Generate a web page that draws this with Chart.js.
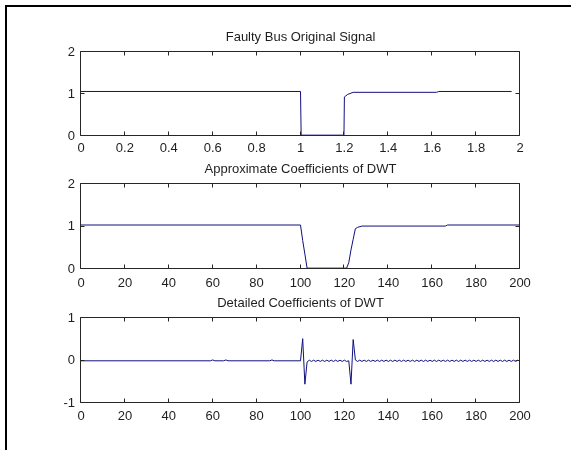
<!DOCTYPE html>
<html>
<head>
<meta charset="utf-8">
<title>Faulty Bus DWT</title>
<script src="https://cdn.jsdelivr.net/npm/chart.js@4.4.0/dist/chart.umd.min.js"></script>
<style>
    html, body { margin: 0; padding: 0; background: #fff; overflow: hidden; }
    #frame { position: absolute; left: 5px; top: 5px; width: 620px; height: 500px;
             border-left: 2px solid #000; border-top: 2px solid #000; }
    canvas { position: absolute; left: 0; }
</style>
</head>
<body>
<div id="frame"></div>
<canvas id="signalChart" width="571" height="160" style="top:0px"></canvas>
<canvas id="approxChart" width="571" height="135" style="top:160px"></canvas>
<canvas id="detailChart" width="571" height="155" style="top:295px"></canvas>
<script>
    // Faulty bus original signal (time in s)
    var signalT = [0, 1.0, 1.003, 1.198, 1.2, 1.215, 1.24, 1.62, 1.63, 1.962];
    var signalV = [1.06, 1.06, 0.02, 0.02, 0.93, 0.99, 1.04, 1.04, 1.06, 1.06];
    var signalTicks = [0, 0.2, 0.4, 0.6, 0.8, 1, 1.2, 1.4, 1.6, 1.8, 2];
    var signalTickLabels = ['0', '0.2', '0.4', '0.6', '0.8', '1', '1.2', '1.4', '1.6', '1.8', '2'];

    // Approximate coefficients of DWT
    var approxN = [0, 100, 101, 102, 103, 121, 122, 123, 124, 125, 126, 128, 166, 167, 200];
    var approxV = [1.035, 1.035, 0.67, 0.35, 0.02, 0.02, 0.15, 0.45, 0.7, 0.95, 0.98, 1.01, 1.01, 1.035, 1.035];

    // Detailed coefficients of DWT
    var detailN = [0, 59, 60, 61, 65, 66, 67, 86, 87, 88, 100, 101, 102];
    var detailV = [0, 0, 0.02, 0, 0, 0.02, 0, 0, 0.02, 0, 0, 0.52, -0.55];
    var detailTailStart = 103;
    var detailTail = [
        -0.03,
        0.015, -0.015, 0.015, -0.015, 0.015, -0.015, 0.015, -0.015, 0.015,
        -0.015, 0.015, -0.015, 0.015, -0.015, 0.015, -0.015, 0.015, -0.015,
        0, -0.55, 0.5, 0.02,
        -0.015, 0.015, -0.015, 0.015, -0.015, 0.015, -0.015, 0.015, -0.015, 0.015,
        -0.015, 0.015, -0.015, 0.015, -0.015, 0.015, -0.015, 0.015, -0.015, 0.015,
        -0.015, 0.015, -0.015, 0.015, -0.015, 0.015, -0.015, 0.015, -0.015, 0.015,
        -0.015, 0.015, -0.015, 0.015, -0.015, 0.015, -0.015, 0.015, -0.015, 0.015,
        -0.015, 0.015, -0.015, 0.015, -0.015, 0.015, -0.015, 0.015, -0.015, 0.015,
        -0.015, 0.015, -0.015, 0.015, -0.015, 0.015, -0.015, 0.015, -0.015, 0.015,
        -0.015, 0.015, -0.015, 0.015, -0.015, 0.015, -0.015, 0.015, -0.015, 0.015,
        -0.015, 0.015, -0.015, 0.015, -0.015
    ];

    var sampleTicks = [0, 20, 40, 60, 80, 100, 120, 140, 160, 180, 200];
    var sampleTickLabels = ['0', '20', '40', '60', '80', '100', '120', '140', '160', '180', '200'];
    var levelTicks = [0, 1, 2];
    var levelTickLabels = ['0', '1', '2'];
    var detailTicks = [-1, 0, 1];
    var detailTickLabels = ['-1', '0', '1'];

    var lineColor = '#10107e';
    var axisColor = '#262626';
    var textColor = '#1e1e1e';

    Chart.defaults.font.family = '"Liberation Sans", Arial, Helvetica, sans-serif';
    Chart.defaults.font.size = 13;
    Chart.defaults.color = textColor;

    function toPoints(xs, ys) {
        return xs.map(function (x, i) { return { x: x, y: ys[i] }; });
    }

    // matlab style box with inward ticks on all four sides
    var boxPlugin = {
        id: 'boxPlugin',
        afterDraw: function (chart) {
            var a = chart.chartArea;
            var ctx = chart.ctx;
            var tickLen = 4;
            var left = Math.round(a.left) - 0.5;
            var right = Math.round(a.right) - 0.5;
            var top = Math.round(a.top) - 0.5;
            var bottom = Math.round(a.bottom) - 0.5;
            ctx.save();
            ctx.strokeStyle = axisColor;
            ctx.lineWidth = 1;
            ctx.beginPath();
            ctx.rect(left, top, right - left, bottom - top);
            chart.scales.x.ticks.forEach(function (t) {
                var px = Math.round(chart.scales.x.getPixelForValue(t.value)) - 0.5;
                ctx.moveTo(px, bottom);
                ctx.lineTo(px, bottom - tickLen);
                ctx.moveTo(px, top);
                ctx.lineTo(px, top + tickLen);
            });
            chart.scales.y.ticks.forEach(function (t) {
                var py = Math.round(chart.scales.y.getPixelForValue(t.value)) - 0.5;
                ctx.moveTo(left, py);
                ctx.lineTo(left + tickLen, py);
                ctx.moveTo(right, py);
                ctx.lineTo(right - tickLen, py);
            });
            ctx.stroke();
            ctx.restore();
        }
    };

    function renderPanel(canvasId, title, points, xMin, xMax, xTicks, xLabels, yMin, yMax, yTicks, yLabels, layout) {
        var canvas = document.getElementById(canvasId);
        return new Chart(canvas.getContext('2d'), {
            type: 'line',
            data: {
                datasets: [{
                    data: points,
                    borderColor: lineColor,
                    borderWidth: 1,
                    pointRadius: 0,
                    tension: 0,
                    fill: false
                }]
            },
            options: {
                responsive: false,
                animation: false,
                devicePixelRatio: 1,
                layout: { padding: { left: 0, right: 51, top: 0, bottom: 0 } },
                plugins: {
                    legend: { display: false },
                    tooltip: { enabled: false },
                    title: {
                        display: true,
                        fullSize: false,
                        text: title,
                        color: textColor,
                        font: { size: 13, weight: 'normal', lineHeight: 1.2 },
                        padding: { top: layout.titleTop, bottom: layout.titleBottom }
                    }
                },
                scales: {
                    x: {
                        type: 'linear',
                        min: xMin,
                        max: xMax,
                        grid: { display: false, drawTicks: false },
                        border: { display: false },
                        ticks: {
                            padding: layout.xPad,
                            maxRotation: 0,
                            autoSkip: false,
                            callback: function (v, i) { return xLabels[i]; }
                        },
                        afterBuildTicks: function (s) {
                            s.ticks = xTicks.map(function (v) { return { value: v }; });
                        },
                        afterFit: function (s) { s.height = layout.xHeight; }
                    },
                    y: {
                        min: yMin,
                        max: yMax,
                        grid: { display: false, drawTicks: false },
                        border: { display: false },
                        ticks: {
                            padding: 6,
                            autoSkip: false,
                            callback: function (v, i) { return yLabels[i]; }
                        },
                        afterBuildTicks: function (s) {
                            s.ticks = yTicks.map(function (v) { return { value: v }; });
                        },
                        afterFit: function (s) { s.width = 81; }
                    }
                }
            },
            plugins: [boxPlugin]
        });
    }

    var detailPoints = toPoints(detailN, detailV).concat(detailTail.map(function (v, i) {
        return { x: detailTailStart + i, y: v };
    }));

    renderPanel('signalChart', 'Faulty Bus Original Signal', toPoints(signalT, signalV),
        0, 2, signalTicks, signalTickLabels, 0, 2, levelTicks, levelTickLabels,
        { titleTop: 30, titleBottom: 6.4, xHeight: 24, xPad: 5 });

    renderPanel('approxChart', 'Approximate Coefficients of DWT', toPoints(approxN, approxV),
        0, 200, sampleTicks, sampleTickLabels, 0, 2, levelTicks, levelTickLabels,
        { titleTop: 2, titleBottom: 6.4, xHeight: 26, xPad: 7 });

    renderPanel('detailChart', 'Detailed Coefficients of DWT', detailPoints,
        0, 200, sampleTicks, sampleTickLabels, -1, 1, detailTicks, detailTickLabels,
        { titleTop: 1, titleBottom: 6.7, xHeight: 46.7, xPad: 5 });
</script>
</body>
</html>
